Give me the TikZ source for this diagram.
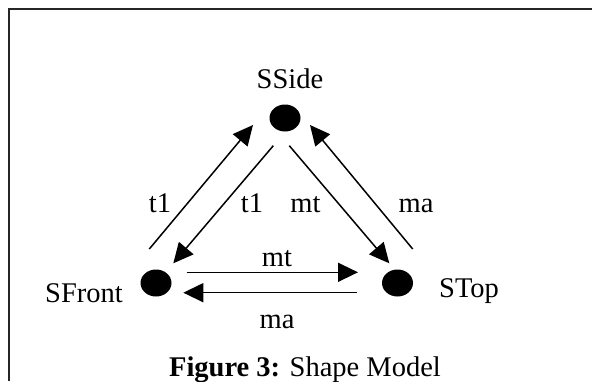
\documentclass[tikz,border=0pt]{standalone}
\usepackage{fontspec}
\setmainfont{Liberation Serif}
\usetikzlibrary{arrows.meta,shapes.geometric}
\begin{document}
\begin{tikzpicture}[x=1pt,y=-1pt,
  dot/.style={draw=none,fill=black,ellipse,minimum width=31pt,minimum height=27pt,inner sep=0pt},
  lbl/.style={font=\fontsize{28.5}{32}\selectfont,inner sep=0pt,anchor=base},
  arr/.style={line width=1.5pt,-{Triangle[length=20pt,width=19pt]}},
  frame/.style={line width=2.6pt,black!85}]
\useasboundingbox (0,0) rectangle (592,381);
% frame (top and left edges)
\coordinate (fa) at (9,381);
\coordinate (fb) at (9,9);
\coordinate (fc) at (592,9);
\draw[frame] (fa) -- (fb) -- (fc);
% dots
\node[dot] (side) at (285,118) {};
\node[dot] (front) at (156,283) {};
\node[dot] (top) at (397.5,283) {};
% names
\node[lbl] (sidet) at (290,88) {SSide};
\node[lbl,anchor=base east] (frontt) at (123,302) {SFront};
\node[lbl,anchor=base west] (topt) at (439,297) {STop};
% arrow end points
\coordinate (a1s) at (149.3,249);  \coordinate (a1e) at (253,125);
\coordinate (a2s) at (273.3,145.7); \coordinate (a2e) at (173.3,263.3);
\coordinate (a3s) at (289.3,145.7); \coordinate (a3e) at (389.3,263.3);
\coordinate (a4s) at (412.7,249);  \coordinate (a4e) at (310,125);
\coordinate (a5s) at (186.7,272.3); \coordinate (a5e) at (358,272.3);
\coordinate (a6s) at (356.7,292.7); \coordinate (a6e) at (183.3,292.7);
\draw[arr] (a1s) -- (a1e);
\draw[arr] (a2s) -- (a2e);
\draw[arr] (a3s) -- (a3e);
\draw[arr] (a4s) -- (a4e);
\draw[arr] (a5s) -- (a5e);
\draw[arr] (a6s) -- (a6e);
% edge labels
\node[lbl] (l1) at (160,212) {t1};
\node[lbl] (l2) at (252,212) {t1};
\node[lbl] (l3) at (305.5,212) {mt};
\node[lbl] (l4) at (416,212) {ma};
\node[lbl] (l5) at (277,266.7) {mt};
\node[lbl] (l6) at (277,328) {ma};
% caption
\node[lbl] (cap) at (305,376) {\textbf{Figure 3:} Shape Model};
\end{tikzpicture}
\end{document}
